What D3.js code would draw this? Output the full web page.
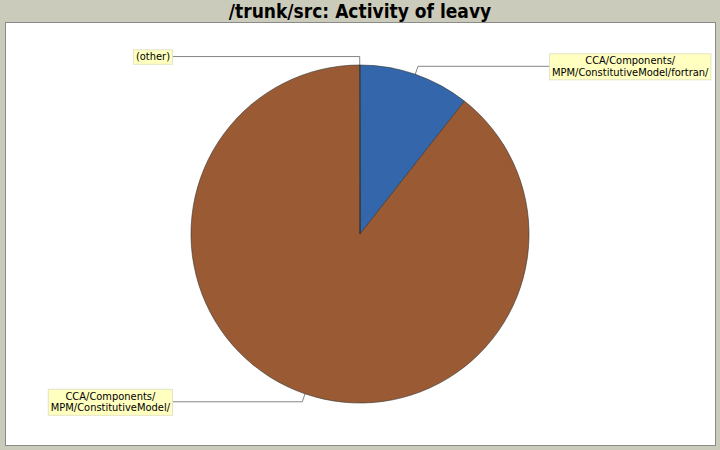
<!DOCTYPE html>
<html>
<head>
<meta charset="utf-8">
<script src="https://cdn.jsdelivr.net/npm/d3@7"></script>
<style>
  body { margin: 0; background: #cbcbbb; }
  svg { display: block; }
  .title { font-family: "DejaVu Sans Condensed", "DejaVu Sans", sans-serif; font-weight: bold; font-size: 19px; fill: #000; }
  .pie-label { font-family: "DejaVu Sans Condensed", "DejaVu Sans", sans-serif; font-size: 11px; fill: #000; }
</style>
</head>
<body>
<svg id="chart" width="720" height="450"></svg>
<script>
// Chart data
const categories = [
    ["CCA/Components/", "MPM/ConstitutiveModel/fortran/"],
    ["CCA/Components/", "MPM/ConstitutiveModel/"],
    ["(other)"]
];
const values = [10.6, 89.35, 0.05];
const colours = ["#3366aa", "#9a5b34", "#55aa55"];
const titleText = "/trunk/src: Activity of leavy";

const width = 720, height = 450;
const plot = { left: 5, top: 22, right: 715, bottom: 445 };
const cx = 360, cy = 234, radius = 169;
const rightLabelX = 549, leftLabelX = 172;

const svg = d3.select('#chart');

svg.append('rect')
    .attr('width', width).attr('height', height)
    .attr('fill', '#cbcbbb');

svg.append('text')
    .attr('class', 'title')
    .attr('x', width / 2)
    .attr('y', 18)
    .attr('text-anchor', 'middle')
    .text(titleText);

svg.append('rect')
    .attr('x', plot.left + 0.5).attr('y', plot.top + 0.5)
    .attr('width', plot.right - plot.left).attr('height', plot.bottom - plot.top)
    .attr('fill', '#fff')
    .attr('stroke', '#8a8a8a');

const data = values.map((v, i) => ({ value: v, lines: categories[i], colour: colours[i] }));

const pie = d3.pie().sort(null).value(d => d.value);
const arcs = pie(data);

const arcGen = d3.arc().innerRadius(0).outerRadius(radius);

const g = svg.append('g').attr('transform', `translate(${cx},${cy})`);

g.selectAll('path.slice').data(arcs).join('path')
    .attr('class', 'slice')
    .attr('d', arcGen)
    .attr('fill', d => d.data.colour)
    .attr('stroke', '#333')
    .attr('stroke-width', 0.6);

// Labels with link lines
const polar = (a, r) => [Math.sin(a) * r, -Math.cos(a) * r];
const lineH = 11.5;

arcs.forEach(d => {
    const mid = (d.startAngle + d.endAngle) / 2;
    const onRight = Math.sin(mid) > 0.001;
    const anchor = polar(mid, radius * 0.9);
    const elbow = polar(mid, radius * 1.05);

    const lg = svg.append('g');
    const txt = lg.selectAll('text').data(d.data.lines).join('text')
        .attr('class', 'pie-label')
        .attr('text-anchor', 'middle')
        .text(t => t);
    const w = d3.max(txt.nodes(), n => n.getComputedTextLength()) + 5;
    const h = d.data.lines.length * lineH + 3;
    const ey = cy + elbow[1];
    const bx = onRight ? rightLabelX : leftLabelX - w;
    const by = ey - h / 2;

    svg.insert('polyline', 'g')
        .attr('points', [
            [cx + anchor[0], cy + anchor[1]],
            [cx + elbow[0], ey],
            [onRight ? bx : bx + w, ey]
        ].map(p => p.join(',')).join(' '))
        .attr('fill', 'none')
        .attr('stroke', '#666')
        .attr('stroke-width', 0.8);

    lg.raise();
    lg.insert('rect', 'text')
        .attr('x', bx + 0.5).attr('y', by + 0.5)
        .attr('width', w).attr('height', h)
        .attr('fill', '#ffffc0')
        .attr('stroke', '#e4e4c4');
    txt.attr('x', bx + w / 2 + 0.5)
        .attr('y', (t, i) => by + 1.5 + lineH * (i + 1) - 2);
});
</script>
</body>
</html>
